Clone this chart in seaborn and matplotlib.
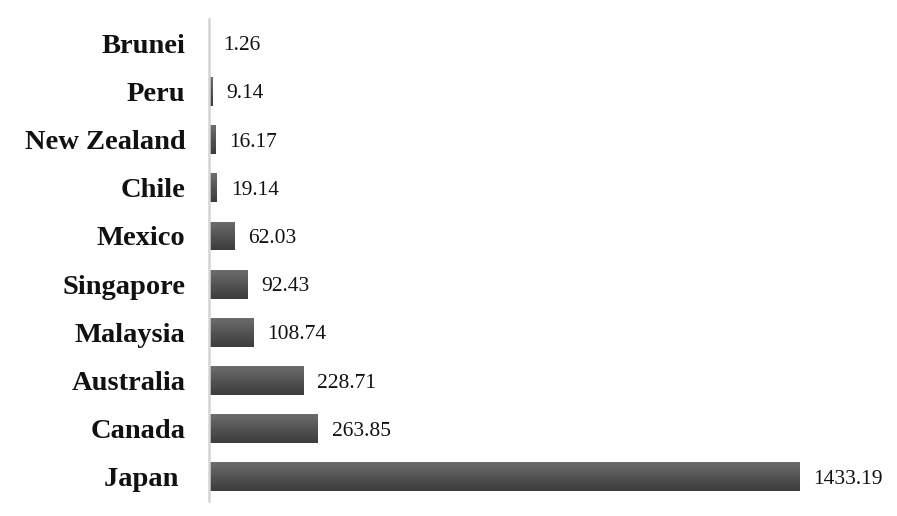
import numpy as np
import pandas as pd
import seaborn as sns
import matplotlib.pyplot as plt
from matplotlib.colors import LinearSegmentedColormap

# datos del gráfico
paises = ['Brunei', 'Peru', 'New Zealand', 'Chile', 'Mexico',
          'Singapore', 'Malaysia', 'Australia', 'Canada', 'Japan ']
valores = [1.26, 9.14, 16.17, 19.14, 62.03, 92.43, 108.74, 228.71, 263.85, 1433.19]

df = pd.DataFrame({'PAIS': paises, 'VALOR': valores})

sns.set_style('white')
plt.rcParams['font.family'] = ['Liberation Serif', 'DejaVu Serif']

fig = plt.figure(figsize=(8.97, 5.16), dpi=100)
ax = fig.add_axes([0.233, 0.029, 0.757, 0.934])

sns.barplot(data=df, x='VALOR', y='PAIS', color='#555555', width=0.6,
            orient='h', ax=ax)

# degradado vertical en cada barra (claro arriba, oscuro abajo)
grad_cmap = LinearSegmentedColormap.from_list('barra', ['#6c6c6c', '#3c3c3c'])
grad = np.linspace(0, 1, 64).reshape(-1, 1)
for patch in ax.patches:
    x0, y0 = patch.get_x(), patch.get_y()
    w, h = patch.get_width(), patch.get_height()
    patch.set_facecolor('none')
    patch.set_edgecolor('none')
    im = ax.imshow(grad, cmap=grad_cmap, aspect='auto', interpolation='bilinear',
                   extent=[x0, x0 + w, y0 + h, y0], zorder=2)
    im.set_clip_path(patch)

ax.set_xlim(0, 1649)
ax.set_ylim(len(paises) - 0.5, -0.5)

for cont in ax.containers:
    textos = ax.bar_label(cont, labels=[f'{v:.2f}' for v in valores], padding=10,
                          fontsize=15.5, color='#111111')
    for t in textos:
        t.set_va('center_baseline')

ax.set_xlabel('')
ax.set_ylabel('')
ax.set_xticks([])
ax.tick_params(axis='y', length=0, pad=17)
for lbl in ax.get_yticklabels():
    lbl.set_fontsize(20.5)
    lbl.set_fontweight('bold')
    lbl.set_color('#111111')

for s in ['top', 'right', 'bottom']:
    ax.spines[s].set_visible(False)
ax.spines['left'].set_color('#d4d4d4')
ax.spines['left'].set_linewidth(1.8)

plt.savefig('out.png', dpi=100)
